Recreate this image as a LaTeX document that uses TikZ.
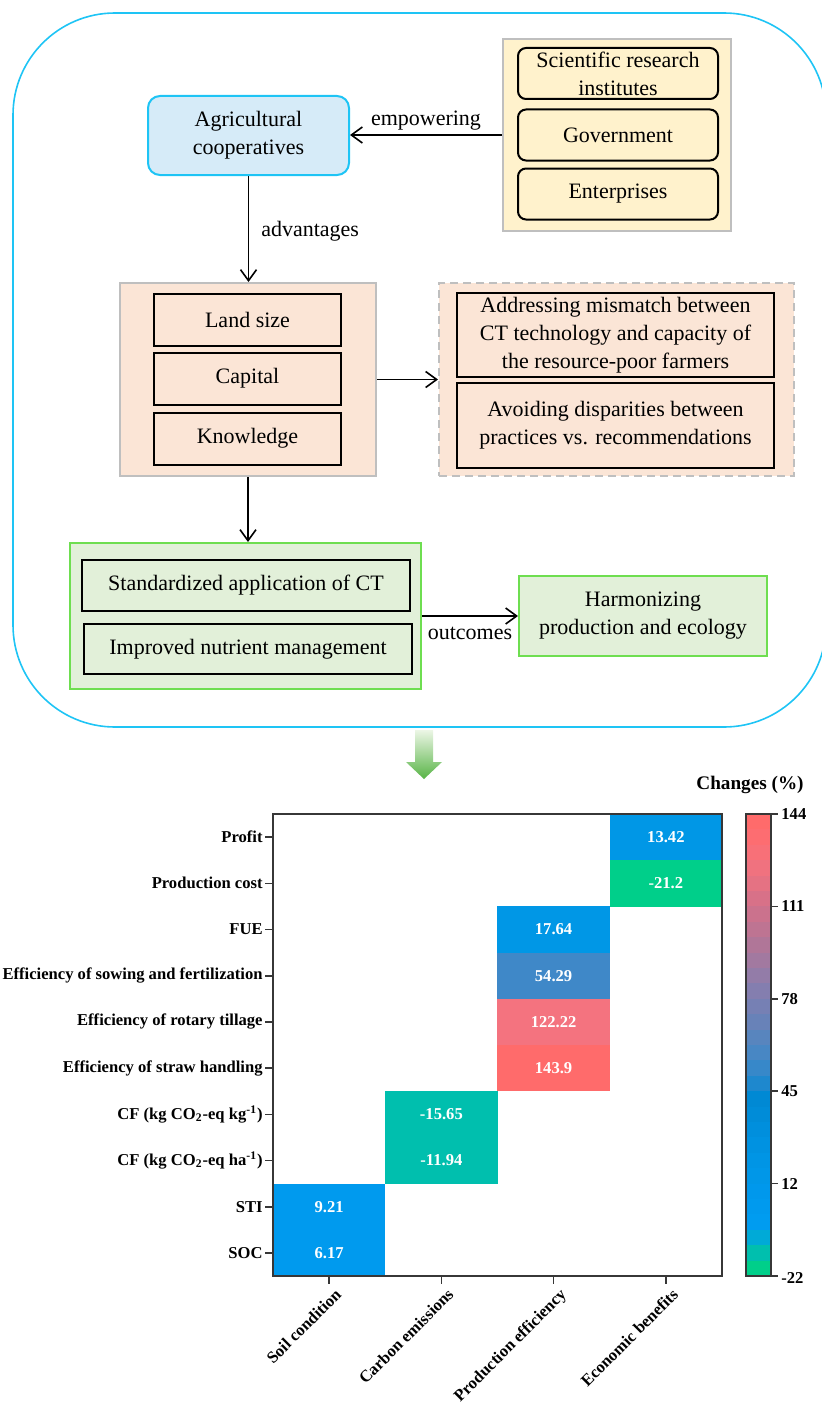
\documentclass[tikz,border=0pt]{standalone}
\usepackage{fontspec}
\setmainfont{Liberation Serif}
\usepackage{tikz}
\usetikzlibrary{positioning}
\usetikzlibrary{arrows.meta}
\definecolor{frameCyan}{RGB}{30,196,245}
\definecolor{agriFill}{RGB}{214,235,248}
\definecolor{yellowFill}{RGB}{255,242,204}
\definecolor{pinkFill}{RGB}{251,229,214}
\definecolor{greenFill}{RGB}{226,240,217}
\definecolor{greenLine}{RGB}{110,222,80}
\definecolor{groupGray}{RGB}{191,191,191}
\definecolor{axisGray}{RGB}{55,55,55}
\definecolor{arrowLight}{RGB}{236,246,230}
\definecolor{arrowGreen}{RGB}{88,180,70}
\definecolor{cellBlue}{RGB}{0,151,230}
\definecolor{cellSky}{RGB}{0,154,238}
\definecolor{cellGreen}{RGB}{0,207,138}
\definecolor{cellTeal}{RGB}{0,191,174}
\definecolor{cellSteel}{RGB}{63,136,200}
\definecolor{cellRose}{RGB}{244,115,127}
\definecolor{cellRed}{RGB}{255,107,107}
\tikzset{boxText/.style={font=\fontsize{11}{14}\selectfont, align=center, inner sep=0pt}}
\tikzset{boxAgri/.style={boxText, draw=frameCyan, fill=agriFill, line width=1pt, rounded corners=6pt, minimum width=100.5pt, minimum height=39.5pt}}
\tikzset{boxGroup/.style={draw=groupGray, line width=1pt, minimum width=114pt, minimum height=96pt}}
\tikzset{boxRound/.style={boxText, draw, line width=1pt, fill=yellowFill, rounded corners=4pt, minimum width=100pt, minimum height=25.5pt}}
\tikzset{boxItem/.style={boxText, draw, line width=1pt, minimum width=93.5pt, minimum height=26pt}}
\tikzset{boxWide/.style={boxText, draw, line width=1pt, minimum width=164pt, minimum height=25.5pt}}
\tikzset{flowArrow/.style={-{Straight Barb[length=5.5pt,width=8pt]}, line width=0.8pt}}
\tikzset{heatLabel/.style={font=\fontsize{8.3}{10}\bfseries\selectfont, inner sep=0pt}}
\tikzset{heatCell/.style={font=\fontsize{8.3}{10}\bfseries\selectfont, text=white, inner sep=0pt, minimum width=56.2pt, minimum height=23.2pt}}

\begin{document}
\begin{tikzpicture}[x=0.5pt, y=-0.5pt]
\useasboundingbox (0,0) rectangle (822,1402);

\draw[frameCyan, line width=0.8pt, rounded corners=51pt] (13,13) rectangle (826,727);

\node[boxAgri] (agri) at (248.5, 135.5) {Agricultural\\cooperatives};

\node[boxGroup, fill=yellowFill] (yel) at (617, 135) {};
\node[boxRound] (sci) at (618, 73.5) {Scientific research\\institutes};
\node[boxRound] (gov) at (618, 135) {Government};
\node[boxRound] (ent) at (618, 194) {Enterprises};

\draw[flowArrow] (yel.west) -- (yel.west -| agri.east) node[boxText, midway, above=2pt] {empowering};

\node[boxGroup, fill=pinkFill, minimum width=128pt, minimum height=96.5pt] (pinkL) at (248, 379.5) {};
\node[boxItem, fill=pinkFill] (land) at (247.5, 320) {Land size};
\node[boxItem, fill=pinkFill] (cap) at (247.5, 378.5) {Capital};
\node[boxItem, fill=pinkFill] (know) at (247.5, 438.5) {Knowledge};

\draw[flowArrow] (agri.south) -- (agri.south |- pinkL.north) node[boxText, midway, right=6pt, yshift=-1pt] {advantages};

\node[draw=groupGray, fill=pinkFill, line width=1pt, dash pattern=on 4pt off 2.5pt, minimum width=177.5pt, minimum height=96.5pt] (pinkR) at (616.5, 379.5) {};
\node[boxItem, fill=pinkFill, minimum width=158.5pt, minimum height=42pt] (mis) at (615.5, 335) {Addressing mismatch between\\CT technology and capacity of\\the resource-poor farmers};
\node[boxItem, fill=pinkFill, minimum width=158.5pt, minimum height=42.5pt] (disp) at (615.5, 425.5) {Avoiding disparities between\\practices vs. recommendations};

\draw[flowArrow] (pinkL.east) -- (pinkR.west);

\node[boxGroup, draw=greenLine, fill=greenFill, minimum width=175.5pt, minimum height=73pt] (greenL) at (245.5, 616) {};
\node[boxWide, fill=greenFill] (std) at (246, 585) {Standardized application of CT};
\node[boxWide, fill=greenFill, minimum height=25pt] (nut) at (248, 649) {Improved nutrient management};

\draw[flowArrow] (pinkL.south) -- (pinkL.south |- greenL.north);

\node[boxText, draw=greenLine, fill=greenFill, line width=1pt, minimum width=124pt, minimum height=40pt] (harm) at (643, 616) {Harmonizing\\production and ecology};

\draw[flowArrow] (greenL.east) -- (greenL.east -| harm.west) node[boxText, midway, below=5pt] {outcomes};

\shade[top color=arrowLight, bottom color=arrowGreen] (415,730) -- (433,730) -- (433,762) -- (442,762) -- (424,779) -- (406,762) -- (415,762) -- cycle;

% heat map
\node[heatCell, fill=cellBlue] (c1) at (665.9, 837.1) {13.42};
\node[heatCell, fill=cellGreen] (c2) at (665.9, 883.3) {-21.2};
\node[heatCell, fill=cellBlue] (c3) at (553.6, 929.5) {17.64};
\node[heatCell, fill=cellSteel] (c4) at (553.6, 975.7) {54.29};
\node[heatCell, fill=cellRose] (c5) at (553.6, 1021.9) {122.22};
\node[heatCell, fill=cellRed] (c6) at (553.6, 1068.1) {143.9};
\node[heatCell, fill=cellTeal] (c7) at (441.4, 1114.3) {-15.65};
\node[heatCell, fill=cellTeal] (c8) at (441.4, 1160.5) {-11.94};
\node[heatCell, fill=cellSky] (c9) at (329.1, 1206.7) {9.21};
\node[heatCell, fill=cellSky] (c10) at (329.1, 1252.9) {6.17};

\draw[axisGray, line width=1pt] (273,814) rectangle (722,1276);

\node[heatLabel, anchor=east] (r1) at (263, 837.1) {Profit};
\node[heatLabel, anchor=east] (r2) at (263, 883.3) {Production cost};
\node[heatLabel, anchor=east] (r3) at (263, 929.5) {FUE};
\node[heatLabel, anchor=east] (r4) at (263, 975.7) {Efficiency of sowing and fertilization};
\node[heatLabel, anchor=east] (r5) at (263, 1021.9) {Efficiency of rotary tillage};
\node[heatLabel, anchor=east] (r6) at (263, 1068.1) {Efficiency of straw handling};
\node[heatLabel, anchor=east] (r7) at (263, 1114.3) {CF (kg CO\textsubscript{2}-eq kg\textsuperscript{-1})};
\node[heatLabel, anchor=east] (r8) at (263, 1160.5) {CF (kg CO\textsubscript{2}-eq ha\textsuperscript{-1})};
\node[heatLabel, anchor=east] (r9) at (263, 1206.7) {STI};
\node[heatLabel, anchor=east] (r10) at (263, 1252.9) {SOC};

\draw[axisGray, line width=0.8pt] (265,837.1) -- (273,837.1) (265,883.3) -- (273,883.3) (265,929.5) -- (273,929.5) (265,975.7) -- (273,975.7) (265,1021.9) -- (273,1021.9) (265,1068.1) -- (273,1068.1) (265,1114.3) -- (273,1114.3) (265,1160.5) -- (273,1160.5) (265,1206.7) -- (273,1206.7) (265,1252.9) -- (273,1252.9);
\draw[axisGray, line width=0.8pt] (329.1,1276) -- (329.1,1284) (441.4,1276) -- (441.4,1284) (553.6,1276) -- (553.6,1284) (665.9,1276) -- (665.9,1284);

\node[heatLabel, anchor=north east, rotate=45] (k1) at (334, 1287) {Soil condition};
\node[heatLabel, anchor=north east, rotate=45] (k2) at (446.4, 1287) {Carbon emissions};
\node[heatLabel, anchor=north east, rotate=45] (k3) at (558.6, 1287) {Production efficiency};
\node[heatLabel, anchor=north east, rotate=45] (k4) at (670.9, 1287) {Economic benefits};

% colour bar
\foreach \k/\r/\g/\b in {0/0/207/138, 1/0/191/174, 2/0/170/215, 3/0/156/240, 4/0/154/238, 5/0/152/236, 6/0/151/232, 7/0/149/229, 8/0/146/225, 9/0/143/221, 10/0/140/216, 11/0/137/212, 12/30/136/206, 13/55/136/201, 14/72/135/196, 15/88/133/190, 16/104/130/184, 17/118/128/180, 18/132/126/175, 19/147/124/168, 20/162/121/160, 21/176/118/152, 22/190/116/146, 23/203/114/141, 24/216/113/136, 25/229/114/131, 26/240/114/127, 27/248/112/120, 28/253/109/113, 29/255/107/107}{
  \definecolor{barStep}{RGB}{\r,\g,\b}
  \fill[barStep] (746,{1276-\k*15.4}) rectangle (771,{1276-(\k+1)*15.4-0.3});
}
\draw[axisGray, line width=0.6pt] (746,814) rectangle (771,1276);
\draw[axisGray, line width=0.8pt] (771,814) -- (778,814) (771,906.4) -- (778,906.4) (771,998.8) -- (778,998.8) (771,1091.2) -- (778,1091.2) (771,1183.6) -- (778,1183.6) (771,1276) -- (778,1276);
\node[heatLabel, anchor=west] (t1) at (781, 814) {144};
\node[heatLabel, anchor=west] (t2) at (781, 906.4) {111};
\node[heatLabel, anchor=west] (t3) at (781, 998.8) {78};
\node[heatLabel, anchor=west] (t4) at (781, 1091.2) {45};
\node[heatLabel, anchor=west] (t5) at (781, 1183.6) {12};
\node[heatLabel, anchor=west] (t6) at (781, 1278) {-22};
\node[font=\fontsize{9.6}{12}\bfseries\selectfont, inner sep=0pt] (bartitle) at (750, 785) {Changes (\%)};

\end{tikzpicture}
\end{document}
